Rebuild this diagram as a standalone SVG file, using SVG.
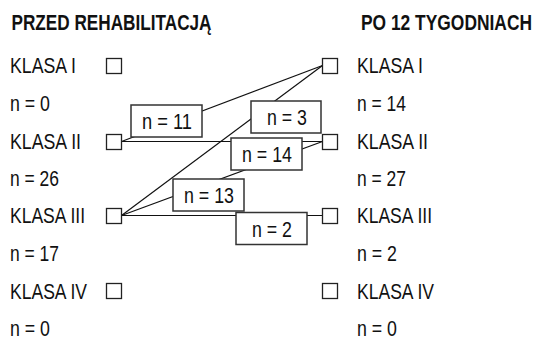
<svg xmlns="http://www.w3.org/2000/svg" width="535" height="338" viewBox="0 0 535 338">
<style>
text{font-family:"Liberation Sans Narrow","Liberation Sans",Arial,sans-serif;font-size:22px;fill:#111;}
.t{font-weight:bold;}
.sq{fill:#fff;stroke:#222;stroke-width:1.3;}
.bx{fill:#fff;stroke:#333;stroke-width:1.5;}
.ln{stroke:#111;stroke-width:1.2;fill:none;}
.c{text-anchor:middle;}
</style>
<rect width="535" height="338" fill="#fff"/>
<g id="titles">
<text class="t" x="11.5" y="30" textLength="200" lengthAdjust="spacingAndGlyphs">PRZED REHABILITACJĄ</text>
<text class="t" x="361" y="30" textLength="171" lengthAdjust="spacingAndGlyphs">PO 12 TYGODNIACH</text>
</g>
<g id="connectors">
<line class="ln" x1="121.5" y1="141.5" x2="322.5" y2="65.5"/>
<line class="ln" x1="121.5" y1="141.5" x2="322.5" y2="141.5"/>
<line class="ln" x1="121.5" y1="215.5" x2="322.5" y2="65.5"/>
<line class="ln" x1="121.5" y1="215.5" x2="322.5" y2="141.5"/>
<line class="ln" x1="121.5" y1="215.5" x2="322.5" y2="215.5"/>
</g>
<g id="left-1">
<text x="10" y="73" textLength="66" lengthAdjust="spacingAndGlyphs">KLASA I</text>
<rect class="sq" x="106.5" y="58.5" width="15" height="15"/>
<text x="10" y="111" textLength="40" lengthAdjust="spacingAndGlyphs">n = 0</text>
</g>
<g id="left-2">
<text x="10" y="149" textLength="71" lengthAdjust="spacingAndGlyphs">KLASA II</text>
<rect class="sq" x="106.5" y="134.5" width="15" height="15"/>
<text x="10" y="186" textLength="49" lengthAdjust="spacingAndGlyphs">n = 26</text>
</g>
<g id="left-3">
<text x="10" y="223" textLength="75" lengthAdjust="spacingAndGlyphs">KLASA III</text>
<rect class="sq" x="106.5" y="208.5" width="15" height="15"/>
<text x="10" y="261" textLength="49" lengthAdjust="spacingAndGlyphs">n = 17</text>
</g>
<g id="left-4">
<text x="10" y="298.5" textLength="77" lengthAdjust="spacingAndGlyphs">KLASA IV</text>
<rect class="sq" x="106.5" y="283.5" width="15" height="15"/>
<text x="10" y="335.5" textLength="40" lengthAdjust="spacingAndGlyphs">n = 0</text>
</g>
<g id="right-1">
<rect class="sq" x="322.5" y="58.5" width="15" height="15"/>
<text x="357" y="73" textLength="66" lengthAdjust="spacingAndGlyphs">KLASA I</text>
<text x="357" y="111" textLength="49" lengthAdjust="spacingAndGlyphs">n = 14</text>
</g>
<g id="right-2">
<rect class="sq" x="322.5" y="134.5" width="15" height="15"/>
<text x="357" y="149" textLength="71" lengthAdjust="spacingAndGlyphs">KLASA II</text>
<text x="357" y="186" textLength="49" lengthAdjust="spacingAndGlyphs">n = 27</text>
</g>
<g id="right-3">
<rect class="sq" x="322.5" y="208.5" width="15" height="15"/>
<text x="357" y="223" textLength="75" lengthAdjust="spacingAndGlyphs">KLASA III</text>
<text x="357" y="261" textLength="40" lengthAdjust="spacingAndGlyphs">n = 2</text>
</g>
<g id="right-4">
<rect class="sq" x="322.5" y="283.5" width="15" height="15"/>
<text x="357" y="298.5" textLength="77" lengthAdjust="spacingAndGlyphs">KLASA IV</text>
<text x="357" y="335.5" textLength="40" lengthAdjust="spacingAndGlyphs">n = 0</text>
</g>
<g id="label-n11">
<rect class="bx" x="131" y="105" width="71" height="32"/>
<text class="c" x="167" y="129" textLength="50" lengthAdjust="spacingAndGlyphs">n = 11</text>
</g>
<g id="label-n3">
<rect class="bx" x="251" y="101" width="70" height="32"/>
<text class="c" x="287" y="124.5" textLength="40" lengthAdjust="spacingAndGlyphs">n = 3</text>
</g>
<g id="label-n14">
<rect class="bx" x="231" y="138" width="71" height="32"/>
<text class="c" x="267" y="162" textLength="50" lengthAdjust="spacingAndGlyphs">n = 14</text>
</g>
<g id="label-n13">
<rect class="bx" x="173" y="179" width="71" height="32"/>
<text class="c" x="209" y="203" textLength="50" lengthAdjust="spacingAndGlyphs">n = 13</text>
</g>
<g id="label-n2">
<rect class="bx" x="236" y="212.5" width="71" height="32"/>
<text class="c" x="272" y="236.5" textLength="40" lengthAdjust="spacingAndGlyphs">n = 2</text>
</g>
</svg>
